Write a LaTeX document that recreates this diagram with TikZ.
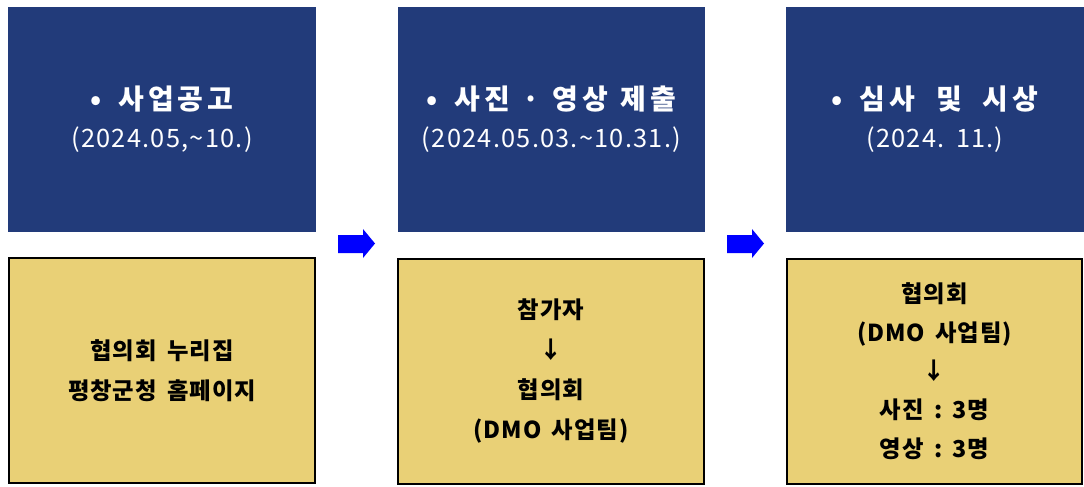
\documentclass[tikz,border=0pt]{standalone}
\usepackage{fontspec}
\newfontfamily\krd{Noto Sans CJK KR}[LetterSpace=5]
\newfontfamily\krt{Noto Sans CJK KR}[LetterSpace=14]
\newfontfamily\kry{Noto Sans CJK KR}[LetterSpace=4]
\definecolor{navy}{RGB}{34,59,122}
\definecolor{gold}{RGB}{233,208,118}
\definecolor{arrowblue}{RGB}{0,0,255}
\newcommand{\ttl}[1]{{\krt\bfseries\fontsize{21}{21}\selectfont #1}}
\newcommand{\wsp}{\hspace{0.45em}}
\newcommand{\tsp}{\hspace{0.6em}}
\newcommand{\xsp}{\hspace{0.75em}}
\begin{document}
\begin{tikzpicture}[x=0.75pt,y=-0.75pt,
  stage/.style={fill=navy,text=white,inner sep=0pt,align=center,
    minimum height=168.75pt,font=\krd\fontsize{19}{28.5}\selectfont},
  who/.style={fill=gold,draw=black,line width=1.5pt,inner sep=0pt,align=center,
    minimum height=168.75pt,font=\kry\bfseries\fontsize{17.5}{30}\selectfont},
  flow/.style={fill=arrowblue,draw=none}]
\useasboundingbox (0,0) rectangle (1084,486);
\node[stage,minimum width=231pt] (s1) at (162,119.5)
  {\ttl{•\tsp 사업공고}\\(2024.05,\textasciitilde 10.)};
\node[stage,minimum width=230.25pt] (s2) at (551.5,119.5)
  {\ttl{•\tsp 사진\wsp ·\wsp 영상\wsp 제출}\\(2024.05.03.\textasciitilde 10.31.)};
\node[stage,minimum width=223.5pt] (s3) at (935,119.5)
  {\ttl{•\tsp 심사\xsp 및\xsp 시상}\\(2024.\wsp 11.)};
\node[who,minimum width=229.5pt] (w1) at (162,370.5)
  {협의회\wsp 누리집\\평창군청\wsp 홈페이지};
\node[who,minimum width=229.5pt] (w2) at (551,371)
  {참가자\\↓\\협의회\\(DMO\wsp 사업팀)};
\node[who,minimum width=221.25pt,font=\kry\bfseries\fontsize{17.5}{29}\selectfont] (w3) at (934.5,371)
  {협의회\\(DMO\wsp 사업팀)\\↓\\사진\wsp :\wsp 3명\\영상\wsp :\wsp 3명};
% block arrows between the stages
\coordinate (a1) at (338,235);
\coordinate (a2) at (727,235);
\foreach \a in {a1,a2}{
  \fill[flow] (\a) -- ++(25,0) -- ++(0,-6) -- ++(12,14.5) -- ++(-12,14.5)
    -- ++(0,-5) -- ++(-25,0) -- cycle;
}
\end{tikzpicture}
\end{document}
